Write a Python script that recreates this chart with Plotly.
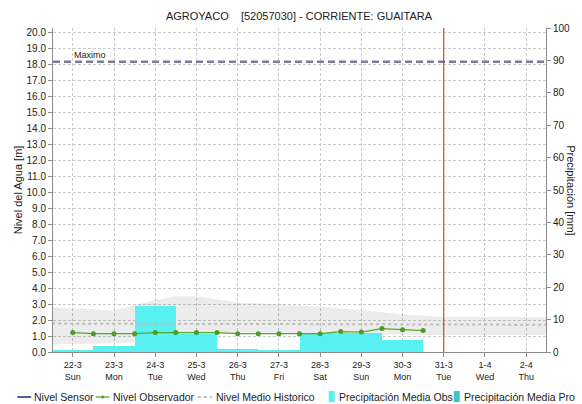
import plotly.graph_objects as go

# ---- data -------------------------------------------------------------
day_labels = ["22-3", "23-3", "24-3", "25-3", "26-3", "27-3",
              "28-3", "29-3", "30-3", "31-3", "1-4", "2-4"]
weekday_labels = ["Sun", "Mon", "Tue", "Wed", "Thu", "Fri",
                  "Sat", "Sun", "Mon", "Tue", "Wed", "Thu"]
day_index = [0, 1, 2, 3, 4, 5, 6, 7, 8, 9, 10, 11]

# daily observed precipitation [mm], 22-3 .. 30-3
precip_days = [0, 1, 2, 3, 4, 5, 6, 7, 8]
precip_obs = [0.5, 1.9, 14.2, 5.5, 0.8, 0.5, 6.0, 6.0, 3.6]

# observer readings every 12 h [m]
obs_time = [0, 0.5, 1, 1.5, 2, 2.5, 3, 3.5, 4, 4.5,
            5, 5.5, 6, 6.5, 7, 7.5, 8, 8.5]
obs_level = [1.22, 1.15, 1.15, 1.15, 1.22, 1.22, 1.22, 1.22, 1.15, 1.15,
             1.15, 1.15, 1.15, 1.28, 1.25, 1.47, 1.40, 1.34]

# historical envelope and mean level [m]
hist_time = [-0.5, 0, 1, 1.5, 2, 2.5, 3, 4, 5, 6, 7, 8, 9, 10, 11, 11.5]
hist_max = [2.80, 2.75, 2.60, 2.95, 3.25, 3.50, 3.50, 3.10, 3.00, 2.85,
            2.62, 2.37, 2.20, 2.20, 2.18, 2.18]
hist_min = [0.50, 0.50, 0.55, 0.60, 0.75, 0.90, 1.05, 1.20, 1.20, 1.15,
            1.10, 1.08, 1.05, 1.05, 1.05, 1.05]
hist_mean = [1.78, 1.78, 1.77, 1.77, 1.77, 1.76, 1.76, 1.76, 1.75, 1.74,
             1.74, 1.73, 1.72, 1.71, 1.71, 1.71]

nivel_maximo = 18.2
now_day = 9  # 31-3

station_title = "AGROYACO\u00a0\u00a0\u00a0\u00a0[52057030] - CORRIENTE: GUAITARA"

# ---- styling ----------------------------------------------------------
FONT = "Liberation Sans, Arial, sans-serif"
GRID = "#cacaca"
AXIS = "#8c8c8c"
CYAN = "#58f0f0"
TEAL = "#40c4c4"
GREEN = "#5aa82a"
HIST_FILL = "rgba(0,0,0,0.075)"
MEAN_COL = "#bdbdbd"

L, R, T, B = 53, 32, 28, 52
W, H = 582, 404
PW, PH = W - L - R, H - T - B


def px(x):
    return (x - L) / PW


def py(y):
    return (H - B - y) / PH


fig = go.Figure()

# historical envelope (left axis)
fig.add_trace(go.Scatter(x=hist_time, y=hist_min, mode="lines",
                         line=dict(width=0), hoverinfo="skip",
                         showlegend=False, yaxis="y"))
fig.add_trace(go.Scatter(x=hist_time, y=hist_max, mode="lines",
                         line=dict(width=0), fill="tonexty",
                         fillcolor=HIST_FILL, showlegend=False, yaxis="y"))

# precipitation bars (right axis)
fig.add_trace(go.Bar(x=precip_days, y=precip_obs, width=1,
                     marker=dict(color=CYAN, line=dict(width=0)),
                     showlegend=False, yaxis="y2"))

# mean level and observer level, drawn above the bars
fig.add_trace(go.Scatter(x=hist_time, y=hist_mean, mode="lines",
                         line=dict(color=MEAN_COL, width=2, dash="dot"),
                         showlegend=False, yaxis="y3"))
fig.add_trace(go.Scatter(x=obs_time, y=obs_level, mode="lines+markers",
                         line=dict(color=GREEN, width=1.3),
                         marker=dict(color="#4c9a28", size=5),
                         showlegend=False, yaxis="y3"))

y_range = [0, 20.31]
tick_font = dict(family=FONT, size=10, color="#222")

fig.update_layout(
    width=W, height=H,
    margin=dict(l=L, r=R, t=T, b=B, pad=0),
    paper_bgcolor="white", plot_bgcolor="white",
    showlegend=False, bargap=0,
    font=dict(family=FONT, size=11, color="#222"),
    title=dict(text=station_title, x=px(301), xref="paper",
               xanchor="center", y=1 - 16 / H, yref="container",
               yanchor="middle", font=dict(family=FONT, size=11, color="#222")),
    xaxis=dict(range=[-0.48, 11.48], tickmode="array", tickvals=day_index,
               ticktext=[f"{d}<br>{w}" for d, w in zip(day_labels, weekday_labels)],
               showgrid=True, gridcolor=GRID, griddash="3px,2px", gridwidth=1,
               showline=True, linecolor=AXIS, linewidth=1,
               ticks="outside", ticklen=4, tickcolor=AXIS,
               zeroline=False, tickfont=dict(family=FONT, size=9, color="#222")),
    yaxis=dict(range=y_range, tickmode="linear", tick0=0, dtick=1,
               tickformat=".1f", showgrid=True, gridcolor=GRID,
               griddash="3px,2px", gridwidth=1, zeroline=False,
               showline=True, linecolor=AXIS, linewidth=1,
               ticks="outside", ticklen=4, tickcolor=AXIS, tickfont=tick_font),
    yaxis2=dict(range=[0, 100], overlaying="y", side="right", anchor="x",
                tickmode="linear", tick0=0, dtick=10, showgrid=False,
                zeroline=False, showline=True, linecolor=AXIS, linewidth=1,
                ticks="outside", ticklen=4, tickcolor=AXIS, tickfont=tick_font),
    yaxis3=dict(range=y_range, overlaying="y", visible=False),
)

shapes = [
    # maximum recorded level
    dict(type="line", xref="paper", x0=0, x1=1, yref="y", y0=nivel_maximo,
         y1=nivel_maximo, line=dict(color="#7c7c9c", width=2.5, dash="7px,4px")),
    # current time marker
    dict(type="line", xref="x", x0=now_day, x1=now_day, yref="paper",
         y0=0, y1=1, line=dict(color="#d02a2a", width=1)),
]

annotations = [
    dict(text="Maximo", xref="paper", x=px(72), yref="y", y=nivel_maximo,
         xanchor="left", yanchor="bottom", showarrow=False,
         font=dict(family=FONT, size=9, color="#222")),
    dict(text="Nivel del Agua [m]", xref="paper", x=px(18), yref="paper",
         y=0.5, textangle=-90, showarrow=False, xanchor="center",
         yanchor="middle", font=dict(family=FONT, size=11, color="#222")),
    dict(text="Precipitación [mm]", xref="paper", x=px(575), yref="paper",
         y=0.5, textangle=90, showarrow=False, xanchor="center",
         yanchor="middle", font=dict(family=FONT, size=11, color="#222")),
]

# legend row
ly = py(397)
leg_font = dict(family=FONT, size=10.5, color="#222")
shapes += [
    dict(type="line", xref="paper", yref="paper", x0=px(17), x1=px(31),
         y0=ly, y1=ly, line=dict(color="#1c2a80", width=1.5)),
    dict(type="line", xref="paper", yref="paper", x0=px(96), x1=px(110),
         y0=ly, y1=ly, line=dict(color=GREEN, width=1.3)),
    dict(type="circle", xref="paper", yref="paper", x0=px(101.5), x1=px(104.5),
         y0=py(398.5), y1=py(395.5), fillcolor="#4c9a28",
         line=dict(width=0)),
    dict(type="line", xref="paper", yref="paper", x0=px(199), x1=px(213),
         y0=ly, y1=ly, line=dict(color=MEAN_COL, width=2, dash="dot")),
    dict(type="rect", xref="paper", yref="paper", x0=px(331), x1=px(337),
         y0=py(402), y1=py(391), fillcolor=CYAN, line=dict(width=0)),
    dict(type="rect", xref="paper", yref="paper", x0=px(457), x1=px(463),
         y0=py(402), y1=py(391), fillcolor=TEAL, line=dict(width=0)),
]
for label, x0 in [("Nivel Sensor", 32), ("Nivel Observador", 111),
                  ("Nivel Medio Historico", 215),
                  ("Precipitación Media Obs", 339),
                  ("Precipitación Media Pro", 465)]:
    annotations.append(dict(text=label, xref="paper", yref="paper",
                            x=px(x0), y=ly, xanchor="left", yanchor="middle",
                            showarrow=False, font=leg_font))

fig.update_layout(shapes=shapes, annotations=annotations)

fig.write_html("out.html")
